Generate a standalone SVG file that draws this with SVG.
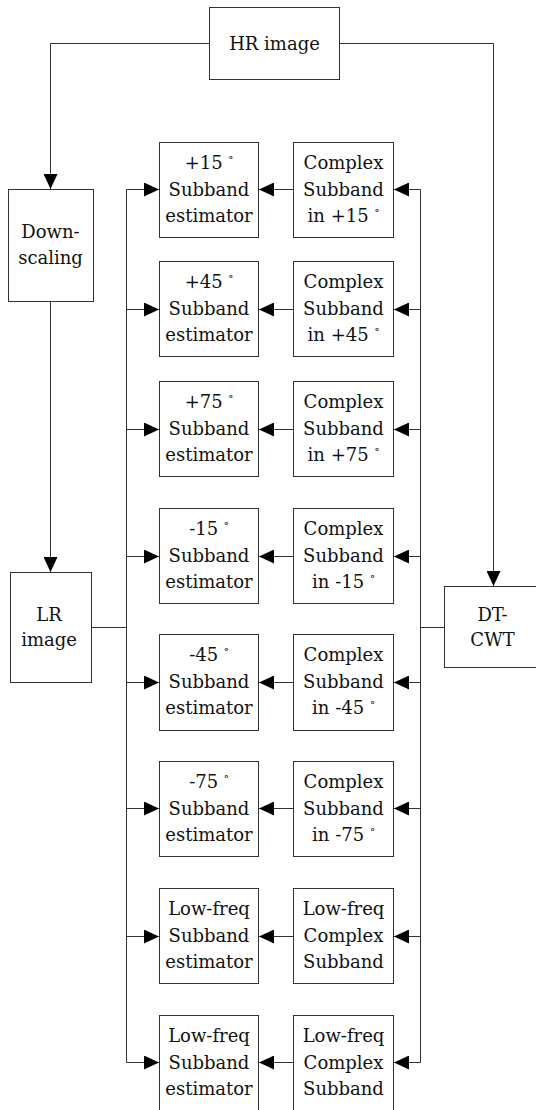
<svg xmlns="http://www.w3.org/2000/svg" width="536" height="1110" viewBox="0 0 536 1110">
  <style>
    .box { fill: #ffffff; stroke: #333333; stroke-width: 1; }
    .wire { fill: none; stroke: #333333; stroke-width: 1; }
    .arr { marker-end: url(#head); }
    .lbl { font-family: "DejaVu Serif", "Liberation Serif", serif; font-size: 18px; fill: #111111; text-anchor: middle; }
    .deg { font-size: 10px; font-weight: bold; }
  </style>
  <defs>
    <marker id="head" markerUnits="userSpaceOnUse" viewBox="0 0 15 14" refX="15" refY="7" markerWidth="15" markerHeight="14" orient="auto">
      <path d="M0,0 L15,7 L0,14 Z" fill="#000000"/>
    </marker>
  </defs>
  <rect width="536" height="1110" fill="#ffffff"/>

  <!-- connectors -->
  <g id="connectors">
    <path class="wire arr" d="M209.5,43.5 H50.5 V189"/>
    <path class="wire arr" d="M339.5,43.5 H493.5 V586"/>
    <path class="wire arr" d="M50.5,301.5 V572"/>
    <path class="wire" d="M91.5,627.5 H126.5"/>
    <path class="wire" d="M126.5,189.5 V1062.5"/>
    <path class="wire" d="M444.5,627.5 H420.5"/>
    <path class="wire" d="M420.5,189.5 V1062.5"/>
    <!-- bus to estimators -->
    <path class="wire arr" d="M126.5,189.5 H159"/>
    <path class="wire arr" d="M126.5,309.5 H159"/>
    <path class="wire arr" d="M126.5,429.5 H159"/>
    <path class="wire arr" d="M126.5,556.5 H159"/>
    <path class="wire arr" d="M126.5,682.5 H159"/>
    <path class="wire arr" d="M126.5,808.5 H159"/>
    <path class="wire arr" d="M126.5,936.5 H159"/>
    <path class="wire arr" d="M126.5,1062.5 H159"/>
    <!-- complex subbands to estimators -->
    <path class="wire arr" d="M293.5,189.5 H259"/>
    <path class="wire arr" d="M293.5,309.5 H259"/>
    <path class="wire arr" d="M293.5,429.5 H259"/>
    <path class="wire arr" d="M293.5,556.5 H259"/>
    <path class="wire arr" d="M293.5,682.5 H259"/>
    <path class="wire arr" d="M293.5,808.5 H259"/>
    <path class="wire arr" d="M293.5,936.5 H259"/>
    <path class="wire arr" d="M293.5,1062.5 H259"/>
    <!-- DT-CWT bus to complex subbands -->
    <path class="wire arr" d="M420.5,189.5 H394"/>
    <path class="wire arr" d="M420.5,309.5 H394"/>
    <path class="wire arr" d="M420.5,429.5 H394"/>
    <path class="wire arr" d="M420.5,556.5 H394"/>
    <path class="wire arr" d="M420.5,682.5 H394"/>
    <path class="wire arr" d="M420.5,808.5 H394"/>
    <path class="wire arr" d="M420.5,936.5 H394"/>
    <path class="wire arr" d="M420.5,1062.5 H394"/>
  </g>

  <g id="hr-image">
    <rect class="box" x="209.5" y="7.5" width="130" height="72"/>
    <text class="lbl" x="274.5" y="50">HR image</text>
  </g>

  <g id="downscaling">
    <rect class="box" x="8.5" y="189.5" width="85" height="112"/>
    <text class="lbl" x="50.5" y="238">Down-</text>
    <text class="lbl" x="50.5" y="264">scaling</text>
  </g>

  <g id="lr-image">
    <rect class="box" x="10.5" y="572.5" width="81" height="110"/>
    <text class="lbl" x="49" y="621">LR</text>
    <text class="lbl" x="49" y="646">image</text>
  </g>

  <g id="dt-cwt">
    <rect class="box" x="444.5" y="586.5" width="100" height="81"/>
    <text class="lbl" x="492.5" y="621">DT-</text>
    <text class="lbl" x="492.5" y="646">CWT</text>
  </g>

  <!-- subband estimators -->
  <g id="est-p15">
    <rect class="box" x="159.5" y="142.5" width="99" height="95"/>
    <text class="lbl" x="209" y="169">+15 <tspan class="deg" dy="-6">°</tspan></text>
    <text class="lbl" x="209" y="195.5">Subband</text>
    <text class="lbl" x="209" y="222">estimator</text>
  </g>
  <g id="est-p45">
    <rect class="box" x="159.5" y="261.5" width="99" height="95"/>
    <text class="lbl" x="209" y="288">+45 <tspan class="deg" dy="-6">°</tspan></text>
    <text class="lbl" x="209" y="314.5">Subband</text>
    <text class="lbl" x="209" y="341">estimator</text>
  </g>
  <g id="est-p75">
    <rect class="box" x="159.5" y="381.5" width="99" height="95"/>
    <text class="lbl" x="209" y="408">+75 <tspan class="deg" dy="-6">°</tspan></text>
    <text class="lbl" x="209" y="434.5">Subband</text>
    <text class="lbl" x="209" y="461">estimator</text>
  </g>
  <g id="est-m15">
    <rect class="box" x="159.5" y="508.5" width="99" height="95"/>
    <text class="lbl" x="209" y="535">-15 <tspan class="deg" dy="-6">°</tspan></text>
    <text class="lbl" x="209" y="561.5">Subband</text>
    <text class="lbl" x="209" y="588">estimator</text>
  </g>
  <g id="est-m45">
    <rect class="box" x="159.5" y="634.5" width="99" height="96"/>
    <text class="lbl" x="209" y="661">-45 <tspan class="deg" dy="-6">°</tspan></text>
    <text class="lbl" x="209" y="687.5">Subband</text>
    <text class="lbl" x="209" y="714">estimator</text>
  </g>
  <g id="est-m75">
    <rect class="box" x="159.5" y="761.5" width="99" height="95"/>
    <text class="lbl" x="209" y="788">-75 <tspan class="deg" dy="-6">°</tspan></text>
    <text class="lbl" x="209" y="814.5">Subband</text>
    <text class="lbl" x="209" y="841">estimator</text>
  </g>
  <g id="est-low1">
    <rect class="box" x="159.5" y="888.5" width="99" height="95"/>
    <text class="lbl" x="209" y="915">Low-freq</text>
    <text class="lbl" x="209" y="941.5">Subband</text>
    <text class="lbl" x="209" y="968">estimator</text>
  </g>
  <g id="est-low2">
    <rect class="box" x="159.5" y="1015.5" width="99" height="95"/>
    <text class="lbl" x="209" y="1042">Low-freq</text>
    <text class="lbl" x="209" y="1068.5">Subband</text>
    <text class="lbl" x="209" y="1095">estimator</text>
  </g>

  <!-- complex subbands -->
  <g id="cx-p15">
    <rect class="box" x="293.5" y="142.5" width="100" height="95"/>
    <text class="lbl" x="343.5" y="169">Complex</text>
    <text class="lbl" x="343.5" y="195.5">Subband</text>
    <text class="lbl" x="343.5" y="222">in +15 <tspan class="deg" dy="-6">°</tspan></text>
  </g>
  <g id="cx-p45">
    <rect class="box" x="293.5" y="261.5" width="100" height="95"/>
    <text class="lbl" x="343.5" y="288">Complex</text>
    <text class="lbl" x="343.5" y="314.5">Subband</text>
    <text class="lbl" x="343.5" y="341">in +45 <tspan class="deg" dy="-6">°</tspan></text>
  </g>
  <g id="cx-p75">
    <rect class="box" x="293.5" y="381.5" width="100" height="95"/>
    <text class="lbl" x="343.5" y="408">Complex</text>
    <text class="lbl" x="343.5" y="434.5">Subband</text>
    <text class="lbl" x="343.5" y="461">in +75 <tspan class="deg" dy="-6">°</tspan></text>
  </g>
  <g id="cx-m15">
    <rect class="box" x="293.5" y="508.5" width="100" height="95"/>
    <text class="lbl" x="343.5" y="535">Complex</text>
    <text class="lbl" x="343.5" y="561.5">Subband</text>
    <text class="lbl" x="343.5" y="588">in -15 <tspan class="deg" dy="-6">°</tspan></text>
  </g>
  <g id="cx-m45">
    <rect class="box" x="293.5" y="634.5" width="100" height="96"/>
    <text class="lbl" x="343.5" y="661">Complex</text>
    <text class="lbl" x="343.5" y="687.5">Subband</text>
    <text class="lbl" x="343.5" y="714">in -45 <tspan class="deg" dy="-6">°</tspan></text>
  </g>
  <g id="cx-m75">
    <rect class="box" x="293.5" y="761.5" width="100" height="95"/>
    <text class="lbl" x="343.5" y="788">Complex</text>
    <text class="lbl" x="343.5" y="814.5">Subband</text>
    <text class="lbl" x="343.5" y="841">in -75 <tspan class="deg" dy="-6">°</tspan></text>
  </g>
  <g id="cx-low1">
    <rect class="box" x="293.5" y="888.5" width="100" height="95"/>
    <text class="lbl" x="343.5" y="915">Low-freq</text>
    <text class="lbl" x="343.5" y="941.5">Complex</text>
    <text class="lbl" x="343.5" y="968">Subband</text>
  </g>
  <g id="cx-low2">
    <rect class="box" x="293.5" y="1015.5" width="100" height="95"/>
    <text class="lbl" x="343.5" y="1042">Low-freq</text>
    <text class="lbl" x="343.5" y="1068.5">Complex</text>
    <text class="lbl" x="343.5" y="1095">Subband</text>
  </g>
</svg>
